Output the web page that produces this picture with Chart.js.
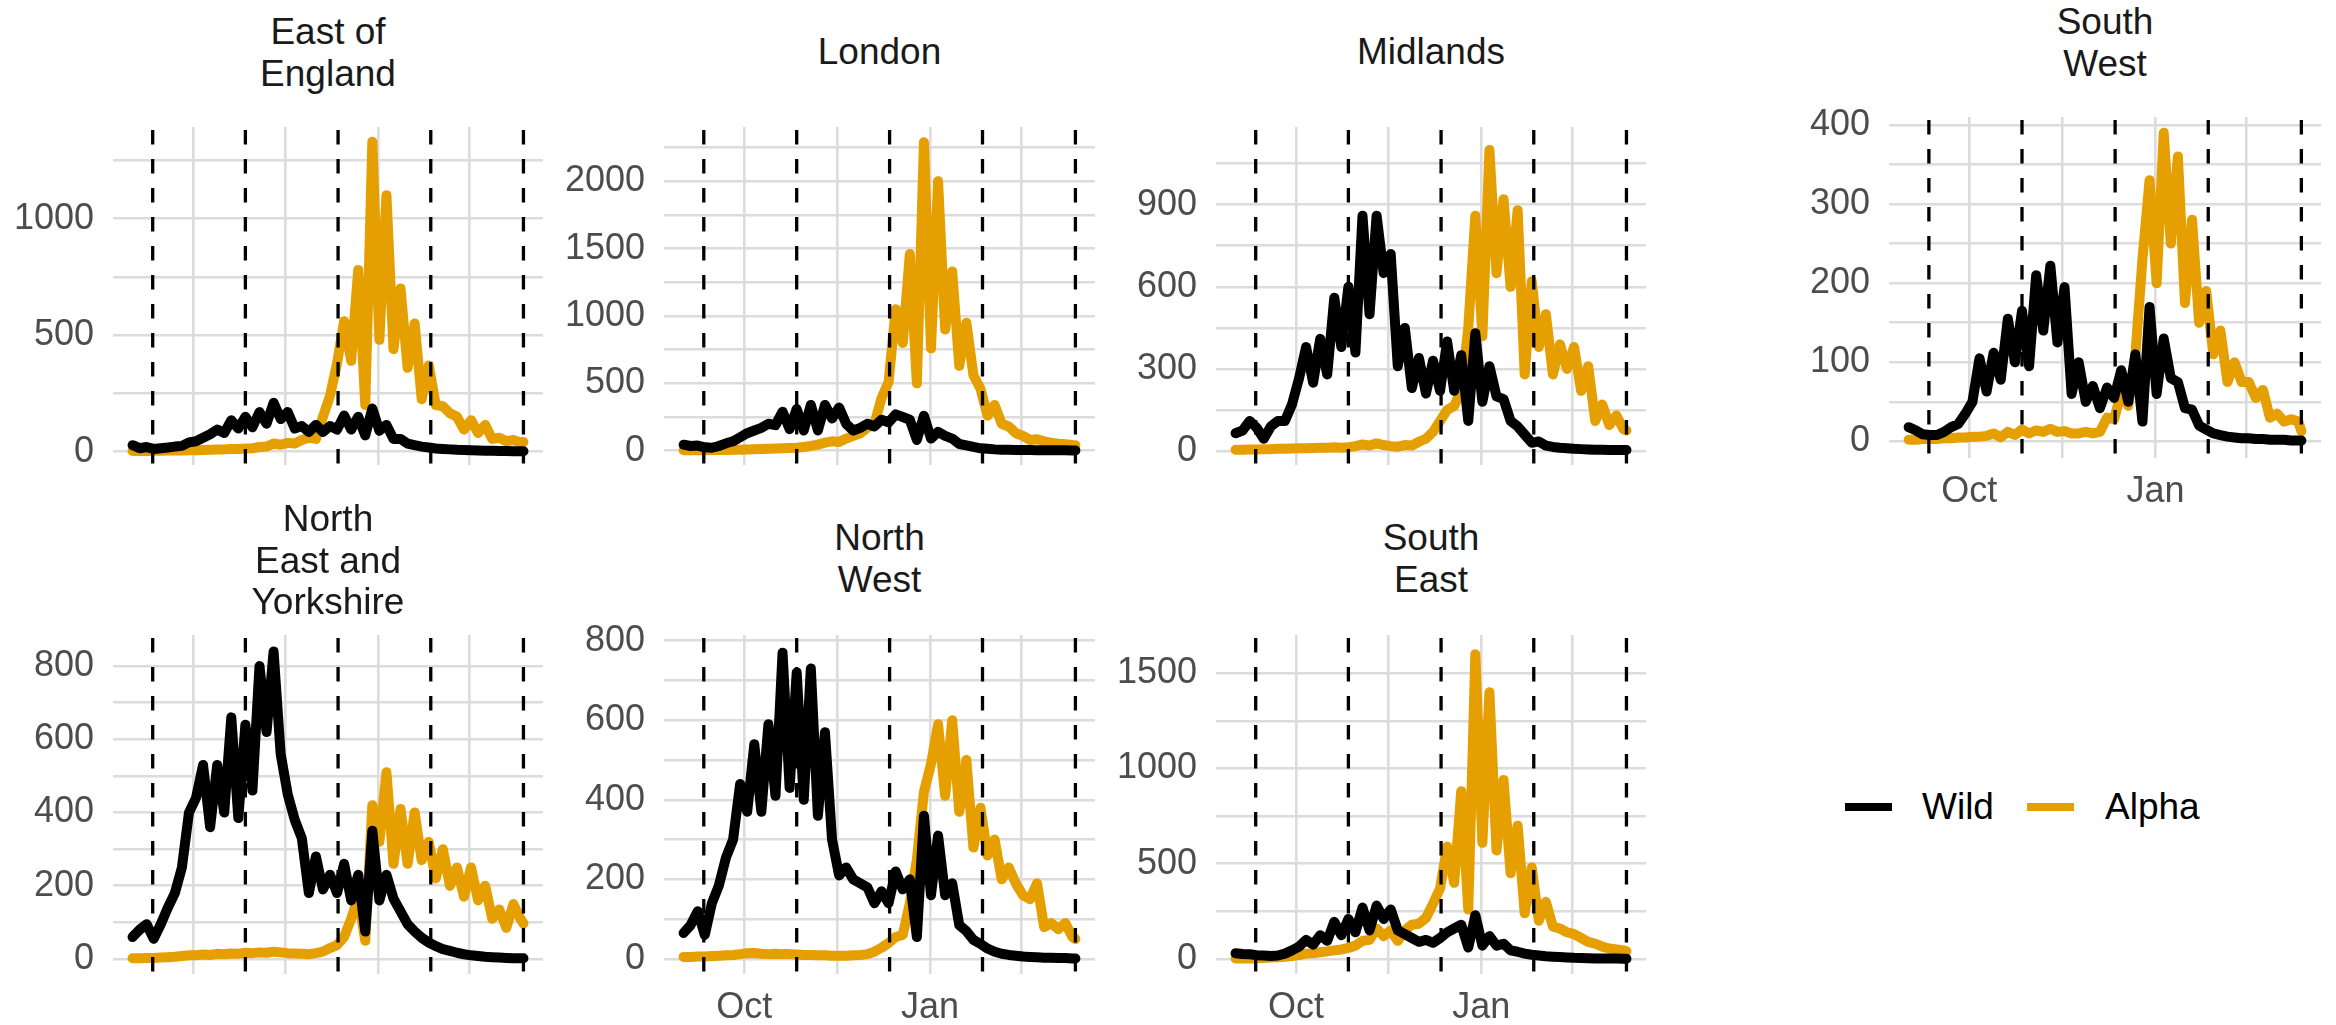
<!DOCTYPE html>
<html>
<head>
<meta charset="utf-8">
<script src="https://cdn.jsdelivr.net/npm/chart.js@4/dist/chart.umd.min.js"></script>
<style>
html,body{margin:0;padding:0;background:#ffffff;}
body{width:2336px;height:1025px;position:relative;overflow:hidden;font-family:"Liberation Sans",Arial,Helvetica,sans-serif;}
canvas{position:absolute;}
.strip{position:absolute;width:420px;margin-left:-210px;text-align:center;font-size:37px;line-height:41.5px;color:#1a1a1a;white-space:nowrap;}
.lkey{position:absolute;height:8px;}
.llab{position:absolute;font-size:37px;line-height:41.5px;color:#000;white-space:nowrap;}
</style>
</head>
<body>
<script>
// ---------- DATA ----------
// x values: days since 1 Sep 2020 (Oct 1 = 30, Jan 1 = 122)
const days = [0,3.5,7,10.5,14,17.5,21,24.5,
  28,31.5,35,38.5,42,45.5,49,52.5,
  56,59.5,63,66.5,70,73.5,77,80.5,
  84,87.5,91,94.5,98,101.5,105,108.5,
  112,115.5,119,122.5,126,129.5,133,136.5,
  140,143.5,147,150.5,154,157.5,161,164.5,
  168,171.5,175,178.5,182,185.5,189,192.5,
  194];

const seriesNames = ['Wild', 'Alpha'];
const regions = ['East of England','London','Midlands','South West','North East and Yorkshire','North West','South East'];
const stripLines = [['East of','England'],['London'],['Midlands'],['South','West'],['North','East and','Yorkshire'],['North','West'],['South','East']];

const eastWild = [28,15,20,12,15,18,22,25,
  40,45,60,75,95,80,135,100,
  150,105,170,120,210,140,170,100,
  110,85,115,85,110,95,155,95,
  150,70,185,90,115,55,55,35,
  28,22,18,14,12,10,8,7,
  6,5,4,4,3,3,2,2,
  2];
const eastAlpha = [3,3,3,4,4,5,5,5,
  6,6,7,8,9,10,12,12,
  14,15,20,22,35,30,38,35,
  50,60,55,150,240,380,560,390,
  780,200,1330,480,1100,440,700,360,
  550,225,370,200,195,165,150,95,
  135,80,115,55,60,45,50,40,
  42];

const londonWild = [45,35,38,25,22,35,55,70,
  100,130,150,170,200,190,290,160,
  310,150,340,150,340,240,320,200,
  150,170,200,180,230,210,270,250,
  230,80,260,90,140,110,90,50,
  40,28,18,14,10,8,7,6,
  5,5,4,4,3,3,3,2,
  2];
const londonAlpha = [3,3,4,4,5,5,6,7,
  8,9,10,12,14,16,18,20,
  22,28,35,45,60,70,65,90,
  110,130,170,200,390,510,1050,800,
  1460,500,2290,760,2000,900,1330,630,
  950,560,460,260,340,200,180,130,
  110,80,85,70,60,52,48,42,
  40];

const midlandsWild = [65,75,110,85,45,90,110,110,
  170,265,380,250,410,280,560,380,
  600,360,860,500,860,650,720,310,
  450,230,340,210,330,220,400,220,
  350,110,430,180,310,200,190,110,
  90,60,30,35,20,15,12,10,
  8,7,6,5,5,4,4,4,
  4];
const midlandsAlpha = [5,5,6,6,7,7,8,8,
  9,10,10,11,12,12,14,12,
  14,18,24,20,28,22,18,16,
  22,20,34,45,70,110,150,165,
  220,450,860,420,1100,650,920,600,
  880,280,620,380,500,280,390,300,
  380,220,310,110,170,95,130,80,
  75];

const southWestWild = [18,14,9,8,8,12,18,22,
  35,50,105,63,112,78,155,100,
  165,95,210,140,222,125,195,60,
  100,50,70,42,68,55,90,50,
  110,25,170,60,130,80,75,42,
  40,20,15,10,8,6,5,4,
  4,3,3,2,2,2,1,1,
  1];
const southWestAlpha = [2,2,3,3,3,4,4,5,
  5,6,6,7,10,5,12,8,
  15,10,14,12,16,12,13,10,
  10,12,10,12,30,28,62,45,
  110,230,330,200,390,250,360,175,
  280,150,190,110,140,75,100,75,
  75,55,65,30,35,25,28,25,
  13];

const northEastWild = [60,80,95,55,95,140,180,250,
  400,440,530,360,530,400,660,385,
  640,460,800,620,840,560,450,380,
  330,180,280,190,230,180,260,160,
  230,75,350,160,230,165,130,95,
  75,58,45,35,27,22,17,13,
  10,8,6,5,4,3,2,2,
  2];
const northEastAlpha = [2,2,3,3,4,5,6,8,
  10,10,12,11,14,13,15,14,
  17,16,18,17,20,18,16,15,
  14,13,16,20,30,38,60,110,
  170,50,420,320,510,260,410,260,
  400,270,320,220,300,200,250,170,
  250,160,200,110,135,85,150,110,
  97];

const northWestWild = [65,85,120,60,140,185,255,300,
  440,370,540,370,590,410,770,430,
  720,400,730,360,570,300,210,230,
  200,190,180,140,170,140,220,175,
  200,55,360,160,310,160,190,85,
  70,48,38,26,18,13,10,8,
  6,5,4,3,3,2,2,1,
  1];
const northWestAlpha = [5,5,6,6,7,8,9,10,
  12,14,15,13,12,13,12,12,
  11,10,10,9,9,8,8,8,
  9,10,12,18,28,40,55,60,
  140,250,420,490,590,410,600,370,
  500,280,380,260,300,200,230,190,
  160,150,190,80,90,75,90,55,
  50];

const southEastWild = [30,26,25,20,18,15,18,28,
  45,65,100,75,125,95,195,125,
  210,140,270,150,280,210,260,150,
  130,110,90,100,85,110,140,160,
  180,60,230,70,120,70,80,45,
  38,28,22,18,14,12,10,8,
  6,5,4,3,3,2,2,1,
  1];
const southEastAlpha = [2,2,3,4,5,7,9,12,
  15,20,28,30,35,40,45,50,
  58,70,95,100,160,120,150,95,
  150,180,185,215,290,370,590,400,
  880,260,1600,610,1400,570,940,450,
  700,240,480,200,300,170,160,140,
  130,110,90,80,65,55,50,45,
  40];

// x axis ticks (major: Oct, Jan; minor between)
const tickDays = [30, 76, 122, 167];
const tickLabels = ['Oct', '', 'Jan', ''];
// dashed reference lines
const dashedDays = [10, 56, 102, 148, 194];

// y-axis ticks / labels per panel
const eastTicks = [0,250,500,750,1000,1250];
const eastLabels = ['0','','500','','1000',''];
const londonTicks = [0,250,500,750,1000,1250,1500,1750,2000,2250];
const londonLabels = ['0','','500','','1000','','1500','','2000',''];
const midlandsTicks = [0,150,300,450,600,750,900,1050];
const midlandsLabels = ['0','','300','','600','','900',''];
const southWestTicks = [0,50,100,150,200,250,300,350,400];
const southWestLabels = ['0','','100','','200','','300','','400'];
const northEastTicks = [0,100,200,300,400,500,600,700,800];
const northEastLabels = ['0','','200','','400','','600','','800'];
const northWestTicks = [0,100,200,300,400,500,600,700,800];
const northWestLabels = ['0','','200','','400','','600','','800'];
const southEastTicks = [0,250,500,750,1000,1250,1500];
const southEastLabels = ['0','','500','','1000','','1500'];

// ---------- STYLE / LAYOUT ----------
const seriesColors = ['#000000', '#E69F00'];
const FONT = '"Liberation Sans", Arial, Helvetica, sans-serif';
const GRID = '#dcdcdc';
const LINE_W = 10;
const YW = 110;   // y-axis area width
const XH = 62;    // x-axis label area height
const PT = 24;    // room above plot area for top tick labels

const panels = [
  {wild:eastWild, alpha:eastAlpha, yMin:-57, yMax:1393, yTicks:eastTicks, yLabels:eastLabels,
   left:113, top:127, w:430, h:338, xlab:false, stripTop:11.4},
  {wild:londonWild, alpha:londonAlpha, yMin:-106, yMax:2403, yTicks:londonTicks, yLabels:londonLabels,
   left:664, top:127, w:431, h:338, xlab:false, stripTop:31.4},
  {wild:midlandsWild, alpha:midlandsAlpha, yMin:-51, yMax:1184, yTicks:midlandsTicks, yLabels:midlandsLabels,
   left:1216, top:127, w:430, h:338, xlab:false, stripTop:31.4},
  {wild:southWestWild, alpha:southWestAlpha, yMin:-21, yMax:410, yTicks:southWestTicks, yLabels:southWestLabels,
   left:1889, top:117, w:432, h:341, xlab:true, stripTop:1.4},
  {wild:northEastWild, alpha:northEastAlpha, yMin:-41, yMax:885, yTicks:northEastTicks, yLabels:northEastLabels,
   left:113, top:635, w:430, h:339, xlab:false, stripTop:498.4},
  {wild:northWestWild, alpha:northWestAlpha, yMin:-38, yMax:814.5, yTicks:northWestTicks, yLabels:northWestLabels,
   left:664, top:635, w:431, h:339, xlab:true, stripTop:517.4},
  {wild:southEastWild, alpha:southEastAlpha, yMin:-79, yMax:1701, yTicks:southEastTicks, yLabels:southEastLabels,
   left:1216, top:635, w:430, h:339, xlab:true, stripTop:517.4}
];

const vlinePlugin = {
  id: 'vlines',
  afterDatasetsDraw(chart) {
    const {ctx, chartArea, scales} = chart;
    ctx.save();
    ctx.strokeStyle = '#000000';
    ctx.lineWidth = 3.3;
    ctx.setLineDash([14.5, 14.5]);
    dashedDays.forEach(d => {
      const x = scales.x.getPixelForValue(d);
      ctx.beginPath();
      ctx.moveTo(x, chartArea.top + 3);
      ctx.lineTo(x, chartArea.bottom);
      ctx.stroke();
    });
    ctx.restore();
  }
};

function lineDataset(i, values) {
  return {
    label: seriesNames[i],
    data: days.map((d, k) => ({x: d, y: values[k]})),
    borderColor: seriesColors[i],
    backgroundColor: seriesColors[i],
    borderWidth: LINE_W,
    pointRadius: 0,
    tension: 0,
    fill: false,
    borderJoinStyle: 'round',
    borderCapStyle: 'round'
  };
}

panels.forEach((p, idx) => {
  const c = document.createElement('canvas');
  const cw = p.w + YW, ch = p.h + PT + (p.xlab ? XH : 0);
  c.width = cw; c.height = ch;
  c.style.left = (p.left - YW) + 'px';
  c.style.top = (p.top - PT) + 'px';
  c.style.width = cw + 'px';
  c.style.height = ch + 'px';
  document.body.appendChild(c);

  new Chart(c, {
    type: 'line',
    data: { datasets: [lineDataset(0, p.wild), lineDataset(1, p.alpha)] },
    options: {
      responsive: false,
      animation: false,
      devicePixelRatio: 1,
      events: [],
      elements: { line: { borderWidth: LINE_W, tension: 0 }, point: { radius: 0 } },
      layout: { padding: { top: PT, left: 0, right: 0, bottom: 0 } },
      plugins: { legend: { display: false }, tooltip: { enabled: false }, title: { display: false } },
      scales: {
        x: {
          type: 'linear', min: -9.7, max: 203.7,
          afterBuildTicks: s => { s.ticks = tickDays.map(v => ({value: v})); },
          afterFit: s => { s.height = p.xlab ? XH : 0; s.paddingLeft = 0; s.paddingRight = 0; },
          grid: { color: GRID, lineWidth: 2.6, drawTicks: false },
          border: { display: false },
          ticks: {
            display: p.xlab, autoSkip: false, maxRotation: 0, minRotation: 0, padding: 12,
            color: '#4d4d4d', font: { family: FONT, size: 36 },
            callback: (v, i) => tickLabels[i]
          }
        },
        y: {
          type: 'linear', min: p.yMin, max: p.yMax,
          afterBuildTicks: s => { s.ticks = p.yTicks.map(v => ({value: v})); },
          afterFit: s => { s.width = YW; s.paddingTop = 0; s.paddingBottom = 0; },
          grid: { color: GRID, lineWidth: 2.6, drawTicks: false },
          border: { display: false },
          ticks: {
            autoSkip: false, padding: 19,
            color: '#4d4d4d', font: { family: FONT, size: 36 },
            callback: (v, i) => p.yLabels[i]
          }
        }
      }
    },
    plugins: [vlinePlugin]
  });

  const s = document.createElement('div');
  s.className = 'strip';
  s.style.left = (p.left + p.w / 2) + 'px';
  s.style.top = p.stripTop + 'px';
  s.innerHTML = stripLines[idx].join('<br>');
  s.title = regions[idx];
  document.body.appendChild(s);
});

// legend
const keyLeft = [1845, 2027];
const labLeft = [1922, 2105];
seriesNames.forEach((n, i) => {
  const k = document.createElement('div');
  k.className = 'lkey';
  k.style.left = keyLeft[i] + 'px';
  k.style.top = '803px';
  k.style.width = '47px';
  k.style.background = seriesColors[i];
  document.body.appendChild(k);
  const l = document.createElement('div');
  l.className = 'llab';
  l.style.left = labLeft[i] + 'px';
  l.style.top = '786.4px';
  l.textContent = n;
  document.body.appendChild(l);
});
</script>
</body>
</html>
